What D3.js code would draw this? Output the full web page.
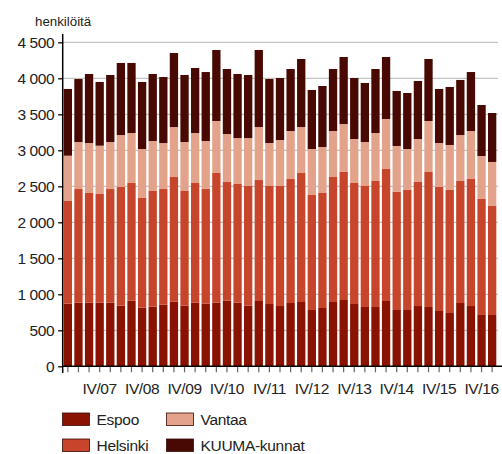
<!DOCTYPE html>
<html><head><meta charset="utf-8">
<script src="https://cdn.jsdelivr.net/npm/d3@7/dist/d3.min.js"></script>
<style>
body{margin:0;background:#fff;}
svg{display:block;font-family:"Liberation Sans",Arial,sans-serif;}
</style></head>
<body><svg id="c" width="502" height="454"></svg>
<script>
const quarters = [];
for (let y = 7; y <= 17; y++) for (let q = 1; q <= 4; q++) { if (y === 17 && q > 1) break; quarters.push(["I","II","III","IV"][q-1] + "/" + String(y).padStart(2,"0")); }

const espoo    = [870,884,884,884,884,842,911,814,828,856,898,842,884,870,884,911,884,842,907,865,837,879,893,782,810,893,921,865,824,824,907,782,782,837,824,768,740,879,837,713,713];
const helsinki = [1426,1578,1523,1509,1578,1648,1635,1524,1607,1606,1731,1593,1662,1592,1801,1649,1648,1662,1680,1639,1667,1722,1792,1597,1597,1736,1778,1681,1680,1750,1833,1643,1667,1723,1875,1722,1709,1695,1764,1611,1514];
const vantaa   = [629,653,694,671,653,722,694,680,694,639,694,680,694,667,722,666,638,666,736,597,639,667,638,639,639,639,666,611,611,666,695,635,569,597,708,611,625,638,667,597,611];
const kuuma    = [927,875,959,885,931,1001,973,931,931,917,1028,931,903,958,986,903,890,876,1070,889,861,861,945,820,847,861,931,847,820,889,861,764,778,806,861,751,805,765,819,708,680];

const seriesNames = ["Espoo","Helsinki","Vantaa","KUUMA-kunnat"];
const colors = ["#8a1200","#c6452b","#e3a38b","#470902"];
const yTicks = [0,500,1000,1500,2000,2500,3000,3500,4000,4500];
const yTickLabels = ["0","500","1 000","1 500","2 000","2 500","3 000","3 500","4 000","4 500"];

const rows = quarters.map((q,i)=>({q, Espoo:espoo[i], Helsinki:helsinki[i], Vantaa:vantaa[i], "KUUMA-kunnat":kuuma[i]}));
const stack = d3.stack().keys(seriesNames)(rows);

const svg = d3.select("#c");
const x0 = 62.7;
const x = d3.scaleBand().domain(quarters).range([x0, 497.3]).paddingInner(0.217).paddingOuter(0.094);
const y = d3.scaleLinear().domain([0,4500]).range([366.3, 42.3]);

// gridlines
svg.append("g").selectAll("line").data(yTicks.filter(d=>d>0)).join("line")
  .attr("x1", x0).attr("x2", 498).attr("y1", d=>y(d)).attr("y2", d=>y(d))
  .attr("stroke","#c4c4c4").attr("stroke-width",1.2);

// bars
svg.append("g").selectAll("g").data(stack).join("g").attr("fill",(d,i)=>colors[i])
  .selectAll("rect").data(d=>d).join("rect")
  .attr("x", d=>x(d.data.q)).attr("width", x.bandwidth())
  .attr("y", d=>y(d[1])).attr("height", d=>y(d[0])-y(d[1]));

// y axis
const ya = svg.append("g").attr("transform",`translate(${x0},0)`)
  .call(d3.axisLeft(y).tickValues(yTicks).tickFormat((d,i)=>yTickLabels[i]).tickSize(4.5).tickPadding(4));
ya.select(".domain").remove();
ya.selectAll(".tick line").attr("stroke","#000").attr("stroke-width",1.3);
ya.selectAll("text").attr("font-size",15.5).attr("fill","#222").attr("font-family","Liberation Sans, Arial, sans-serif").attr("letter-spacing","-0.4");
svg.append("line").attr("x1",x0).attr("x2",x0).attr("y1",34).attr("y2",373).attr("stroke","#000").attr("stroke-width",1.5);

// x axis
const xa = svg.append("g").attr("transform","translate(0,366.3)")
  .call(d3.axisBottom(x).tickSize(6).tickPadding(11).tickFormat(d=>d.startsWith("IV/")?d:""));
xa.select(".domain").remove();
xa.selectAll(".tick line").attr("stroke","#666").attr("stroke-width",1.2);
xa.selectAll("text").attr("font-size",15.5).attr("fill","#222").attr("font-family","Liberation Sans, Arial, sans-serif").attr("letter-spacing","-0.4");
svg.append("line").attr("x1",x0).attr("x2",502).attr("y1",366.3).attr("y2",366.3).attr("stroke","#000").attr("stroke-width",1.5);

// unit label
svg.append("text").attr("x",35).attr("y",25.5).attr("font-size",13.3).attr("fill","#222").text("henkilöitä");

// legend
const legPos = [[62.5,413],[62.5,439],[166.5,413],[166.5,439]];
const lg = svg.append("g").selectAll("g").data(seriesNames).join("g")
  .attr("transform",(d,i)=>`translate(${legPos[i][0]},${legPos[i][1]})`);
lg.append("rect").attr("width",27).attr("height",12.5).attr("fill",(d,i)=>colors[i]).attr("stroke","#3a0a05").attr("stroke-width",0.8);
lg.append("text").attr("x",34).attr("y",11.5).attr("font-size",15.5).attr("fill","#222").attr("letter-spacing","-0.3").text(d=>d);
</script></body></html>
